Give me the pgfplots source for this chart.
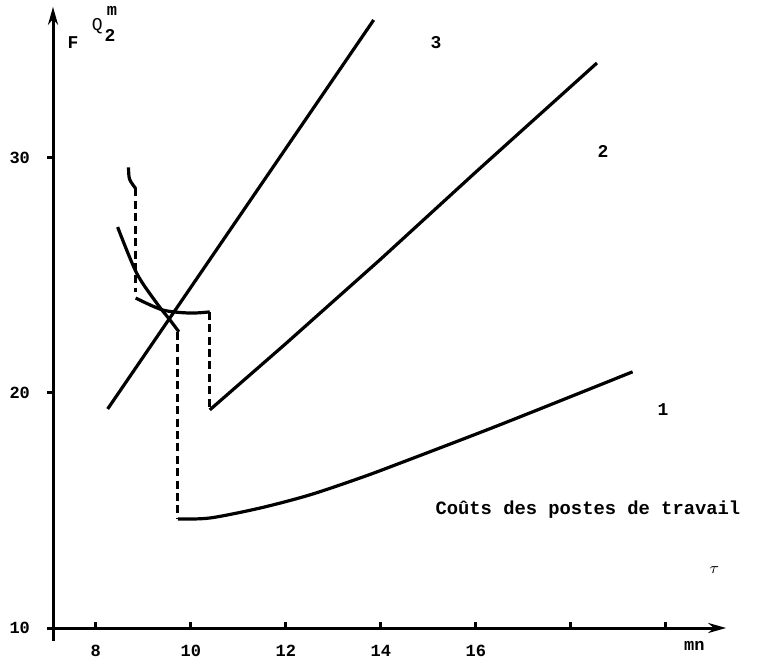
\documentclass[border=0pt]{standalone}
\usepackage{pgfplots}
\pgfplotsset{compat=1.18}
\usepackage{fontspec}
\setmainfont{Liberation Sans}
\setmonofont{Liberation Mono}
\usetikzlibrary{arrows.meta}

\begin{document}
\begin{tikzpicture}
\begin{axis}[
  x=23.75pt, y=11.75pt,
  xmin=7.1, xmax=21.27, ymin=10, ymax=36.43,
  axis x line=bottom, axis y line=left,
  axis line style={line width=1.5pt, -{Stealth[length=9pt,width=5pt]}},
  clip=false,
  xtick={8,10,12,14,16,18,20},
  xticklabels={8,10,12,14,16,,},
  ytick={10,20,30},
  tick align=outside,
  major tick length=3pt,
  every tick/.style={line width=1.5pt, black},
  every x tick/.append style={yshift=3pt},
  /pgf/number format/assume math mode=true,
  ticklabel style={font=\ttfamily\bfseries\fontsize{8.5}{9}\selectfont},
  xticklabel style={yshift=-2pt},
  yticklabel style={xshift=-5pt},
]
% invisible frame fixing the picture size
\path (axis cs:5.984,8.77) rectangle (axis cs:21.94,36.72);
% small extension of y axis below x axis
\draw[line width=1.5pt] (axis cs:7.1,10) -- (axis cs:7.1,9.45);

% line 3
\addplot[black, line width=1.6pt] coordinates {(8.25,19.32) (13.85,35.87)};
% line 2
\addplot[black, line width=1.6pt] coordinates {(10.4,19.28) (12,22.1) (14,25.7) (16,29.4) (18.55,34.04)};
% curve 1
\addplot[black, line width=1.6pt, smooth] coordinates {(9.73,14.64) (10.4,14.68) (11.45,15.1) (12.5,15.66) (13.56,16.38) (14.36,16.98) (16.5,18.64) (19.3,20.9)};
% curl at top left
\addplot[black, line width=1.6pt, smooth] coordinates {(8.69,29.6) (8.71,29.1) (8.84,28.7)};
% steep curve
\addplot[black, line width=1.6pt, smooth] coordinates {(8.46,27.06) (8.86,25.1) (9.28,23.83) (9.56,23.11) (9.75,22.6)};
% flat curve
\addplot[black, line width=1.6pt, smooth] coordinates {(8.84,24.04) (9.41,23.53) (9.98,23.4) (10.4,23.45)};
% dashed verticals
\addplot[black, line width=1.5pt, dash pattern=on 4pt off 2.2pt] coordinates {(8.84,28.7) (8.84,24.3)};
\addplot[black, line width=1.5pt, dash pattern=on 4pt off 2.2pt] coordinates {(10.4,23.45) (10.4,19.28)};
\addplot[black, line width=1.5pt, dash pattern=on 4pt off 2.2pt] coordinates {(9.73,22.6) (9.73,14.64)};

% labels
\node[font=\ttfamily\bfseries\fontsize{9}{10}\selectfont] at (axis cs:7.52,34.9) {F};
\node[font=\ttfamily\fontsize{9}{10}\selectfont, inner sep=0pt] at (axis cs:8.03,35.62) {Q};
\node[font=\ttfamily\bfseries\fontsize{8.5}{9}\selectfont, inner sep=0pt] at (axis cs:8.34,36.25) {m};
\node[font=\ttfamily\bfseries\fontsize{9}{10}\selectfont, inner sep=0pt] at (axis cs:8.3,35.2) {2};
\node[font=\ttfamily\bfseries\fontsize{9}{10}\selectfont] at (axis cs:15.16,34.9) {3};
\node[font=\ttfamily\bfseries\fontsize{9}{10}\selectfont] at (axis cs:18.68,30.26) {2};
\node[font=\ttfamily\bfseries\fontsize{9}{10}\selectfont] at (axis cs:19.94,19.28) {1};
\node[font=\bfseries\fontsize{8}{9}\selectfont] at (axis cs:21.02,12.47) {$\tau$};
\node[font=\ttfamily\bfseries\fontsize{8.5}{9}\selectfont] at (axis cs:20.6,9.23) {mn};
\node[font=\ttfamily\bfseries\fontsize{9.4}{11}\selectfont] at (axis cs:18.36,15.02) {Coûts des postes de travail};
\end{axis}
\end{tikzpicture}
\end{document}
